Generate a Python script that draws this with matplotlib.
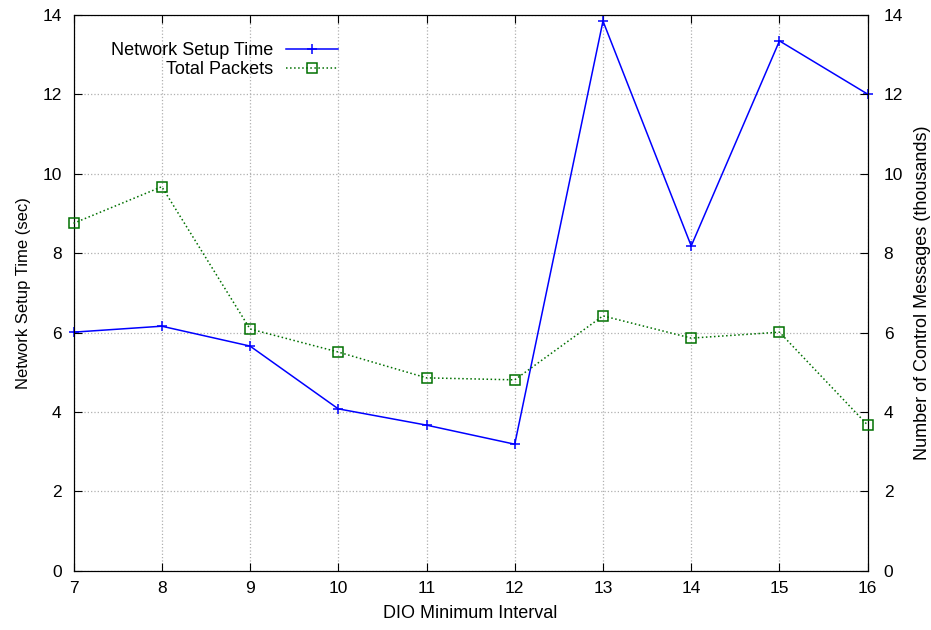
import numpy as np
import matplotlib
matplotlib.use('Agg')
import matplotlib.pyplot as plt

plt.rcParams['font.family'] = ['Liberation Sans', 'DejaVu Sans']

# data
interval = [7, 8, 9, 10, 11, 12, 13, 14, 15, 16]
setup_time = [6.01, 6.16, 5.66, 4.08, 3.67, 3.19, 13.84, 8.18, 13.34, 12.0]
total_packets = [8.75, 9.67, 6.09, 5.51, 4.86, 4.81, 6.42, 5.86, 6.01, 3.67]

FONTSIZE = 13

fig = plt.figure(figsize=(9.31, 6.3), dpi=100)
ax = fig.add_axes([0.079, 0.0937, 0.853, 0.883])
ax2 = ax.twinx()

l1, = ax.plot(interval, setup_time, color='#0000ff', linewidth=1.1, marker='+',
              markersize=7.5, markeredgewidth=1.1, label='Network Setup Time', clip_on=False, zorder=3)
l2, = ax2.plot(interval, total_packets, color='#007000', linewidth=1.1, linestyle=':',
               marker='s', markersize=6.5, markerfacecolor='none', markeredgewidth=1.1,
               label='Total Packets', clip_on=False, zorder=3)

ax.set_xlim(7, 16)
ax.set_ylim(0, 14)
ax2.set_ylim(0, 14)
ax.set_xticks(np.arange(7, 17, 1))
ax.set_yticks(np.arange(0, 15, 2))
ax2.set_yticks(np.arange(0, 15, 2))

ax.grid(True, linestyle=':', color='#b0b0b0', linewidth=0.9)
ax.tick_params(axis='both', direction='in', length=6, labelsize=FONTSIZE - 0.5, top=True)
ax.tick_params(axis='x', pad=7)
ax.tick_params(axis='y', pad=8.5)
ax2.tick_params(axis='y', direction='in', length=6, labelsize=FONTSIZE - 0.5, pad=11.5)

ax.set_xlabel('DIO Minimum Interval', fontsize=FONTSIZE, labelpad=7)
ax.set_ylabel('Network Setup Time (sec)', fontsize=FONTSIZE - 1, labelpad=8)
ax2.set_ylabel('Number of Control Messages (thousands)', fontsize=FONTSIZE, labelpad=8)

leg = ax2.legend([l1, l2], ['Network Setup Time', 'Total Packets'], loc='upper right',
                 bbox_to_anchor=(0.333, 0.951), frameon=False, markerfirst=False,
                 fontsize=FONTSIZE, handlelength=2.9, handletextpad=0.7, labelspacing=0.12,
                 borderpad=0, borderaxespad=0)

plt.savefig('out.png', dpi=100)
